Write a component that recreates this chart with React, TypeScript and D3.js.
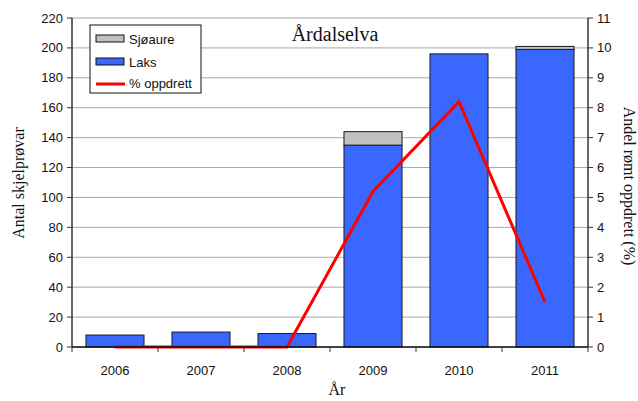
import React from "react";
import * as d3 from "d3";

const years = ["2006", "2007", "2008", "2009", "2010", "2011"];
const laks = [8, 10, 9, 135, 196, 199];
const sjoaure = [0, 0, 0, 9, 0, 2];
const oppdrett = [0, 0, 0, 5.2, 8.2, 1.5];
const leftTicks = [0, 20, 40, 60, 80, 100, 120, 140, 160, 180, 200, 220];
const rightTicks = [0, 1, 2, 3, 4, 5, 6, 7, 8, 9, 10, 11];

const W = 638, H = 401;
const L = 72, R = 588, T = 18, B = 347;
const sans = "Liberation Sans, Arial, sans-serif";
const serif = "Liberation Serif, Times New Roman, serif";
const BLUE = "#3A68FF";
const GRAY = "#C0C0C0";
const RED = "#FF0000";

export default function App() {
  const x = d3.scaleBand<string>().domain(years).range([L, R]).paddingInner(0).paddingOuter(0);
  const y = d3.scaleLinear().domain([0, 220]).range([B, T]);
  const y2 = d3.scaleLinear().domain([0, 11]).range([B, T]);
  const bw = x.bandwidth() * 0.675;
  const cx = (d: string) => (x(d) as number) + x.bandwidth() / 2;
  const line = d3.line<number>().x((_, i) => cx(years[i])).y((d) => y2(d));

  return (
    <svg width={W} height={H} style={{ position: "absolute", left: 0, top: 0, background: "#fff" }}>
      <rect x={0} y={0} width={W} height={H} fill="#fff" />
      {leftTicks.map((t) => (
        <line key={"g" + t} x1={L} x2={R} y1={y(t)} y2={y(t)} stroke="#A8A8A8" strokeWidth={1} />
      ))}
      {years.map((yr, i) => (
        <g key={yr}>
          <rect x={cx(yr) - bw / 2} y={y(laks[i])} width={bw} height={y(0) - y(laks[i])} fill={BLUE} stroke="#1a1a1a" strokeWidth={1} />
          {sjoaure[i] > 0 && (
            <rect x={cx(yr) - bw / 2} y={y(laks[i] + sjoaure[i])} width={bw} height={y(laks[i]) - y(laks[i] + sjoaure[i])} fill={GRAY} stroke="#1a1a1a" strokeWidth={1} />
          )}
        </g>
      ))}
      <path d={line(oppdrett) || ""} fill="none" stroke={RED} strokeWidth={3} />
      {/* left axis */}
      <line x1={L} x2={L} y1={T} y2={B} stroke="#333" strokeWidth={1.5} />
      {leftTicks.map((t) => (
        <g key={"l" + t}>
          <line x1={L - 5} x2={L} y1={y(t)} y2={y(t)} stroke="#333" />
          <text x={L - 9} y={y(t)} dy="0.35em" textAnchor="end" fontFamily={sans} fontSize={13} fill="#111">{t}</text>
        </g>
      ))}
      {/* right axis */}
      <line x1={R} x2={R} y1={T} y2={B} stroke="#333" strokeWidth={1.5} />
      {rightTicks.map((t) => (
        <g key={"r" + t}>
          <line x1={R} x2={R + 5} y1={y2(t)} y2={y2(t)} stroke="#333" />
          <text x={R + 9} y={y2(t)} dy="0.35em" textAnchor="start" fontFamily={sans} fontSize={13} fill="#111">{t}</text>
        </g>
      ))}
      {/* x axis */}
      <line x1={L} x2={R} y1={B} y2={B} stroke="#111" strokeWidth={1.5} />
      {years.concat(["end"]).map((yr, i) => {
        const xx = L + i * x.bandwidth();
        return <line key={"xt" + i} x1={xx} x2={xx} y1={B} y2={B + 5} stroke="#333" />;
      })}
      {years.map((yr) => (
        <text key={"xl" + yr} x={cx(yr)} y={375} textAnchor="middle" fontFamily={sans} fontSize={13} fill="#111">{yr}</text>
      ))}
      <text x={337} y={395} textAnchor="middle" fontFamily={serif} fontSize={16} fill="#111">År</text>
      <text transform={`translate(24,183) rotate(-90)`} textAnchor="middle" fontFamily={serif} fontSize={16} fill="#111">Antal skjelprøvar</text>
      <text transform={`translate(624,186) rotate(90)`} textAnchor="middle" fontFamily={serif} fontSize={16} fill="#111">Andel rømt oppdrett (%)</text>
      <text x={335} y={41} textAnchor="middle" fontFamily={serif} fontSize={20} fill="#111">Årdalselva</text>
      {/* legend */}
      <rect x={90} y={25} width={111} height={68} fill="#fff" stroke="#111" strokeWidth={1} />
      <rect x={96} y={35} width={28} height={7} fill={GRAY} stroke="#111" />
      <text x={129} y={39} dy="0.35em" fontFamily={sans} fontSize={13} fill="#111">Sjøaure</text>
      <rect x={96} y={58} width={28} height={7} fill={BLUE} stroke="#111" />
      <text x={129} y={62} dy="0.35em" fontFamily={sans} fontSize={13} fill="#111">Laks</text>
      <line x1={96} x2={125} y1={84} y2={84} stroke={RED} strokeWidth={3} />
      <text x={129} y={83} dy="0.35em" fontFamily={sans} fontSize={13} fill="#111">% oppdrett</text>
    </svg>
  );
}
